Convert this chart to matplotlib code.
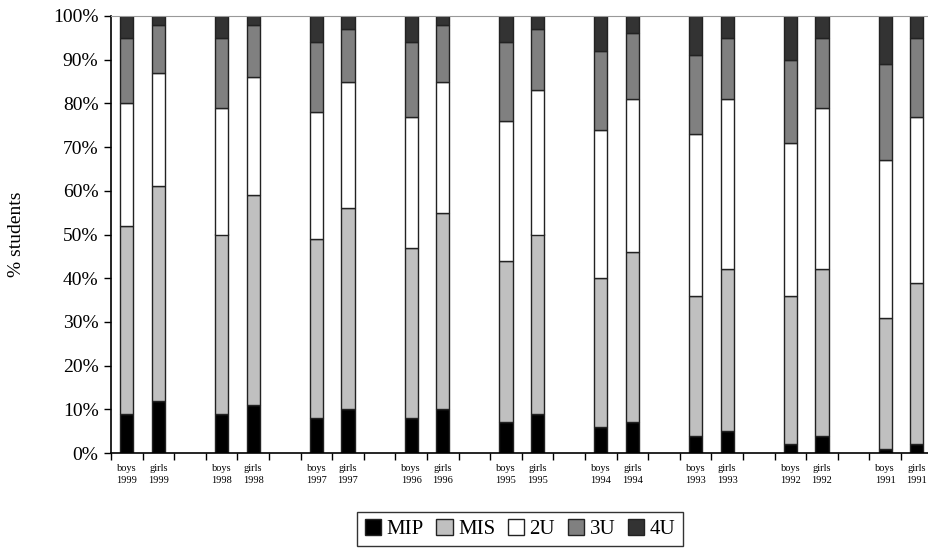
import matplotlib
matplotlib.use('Agg')
import matplotlib.pyplot as plt
from matplotlib.ticker import PercentFormatter, FixedLocator

# cumulative tops (MIP, +MIS, +2U, +3U), 4U fills to 100
groups = ['boys\n1999', 'girls\n1999', 'boys\n1998', 'girls\n1998',
          'boys\n1997', 'girls\n1997', 'boys\n1996', 'girls\n1996',
          'boys\n1995', 'girls\n1995', 'boys\n1994', 'girls\n1994',
          'boys\n1993', 'girls\n1993', 'boys\n1992', 'girls\n1992',
          'boys\n1991', 'girls\n1991']
mip = [9, 12, 9, 11, 8, 10, 8, 10, 7, 9, 6, 7, 4, 5, 2, 4, 1, 2]
mis = [43, 49, 41, 48, 41, 46, 39, 45, 37, 41, 34, 39, 32, 37, 34, 38, 30, 37]
u2 = [28, 26, 29, 27, 29, 29, 30, 30, 32, 33, 34, 35, 37, 39, 35, 37, 36, 38]
u3 = [15, 11, 16, 12, 16, 12, 17, 13, 18, 14, 18, 15, 18, 14, 19, 16, 22, 18]
u4 = [5, 2, 5, 2, 6, 3, 6, 2, 6, 3, 8, 4, 9, 5, 10, 5, 11, 5]

series = [('MIP', mip, '#000000'), ('MIS', mis, '#c0c0c0'), ('2U', u2, '#ffffff'),
          ('3U', u3, '#808080'), ('4U', u4, '#333333')]

plt.rcParams['font.family'] = ['Liberation Serif', 'DejaVu Serif']

fig = plt.figure(figsize=(9.29, 5.51), dpi=100)
ax = fig.add_axes([111 / 929, 1 - 453 / 551, 821.6 / 929, 437 / 551])

# slots: boys, girls, gap, boys, girls, gap, ...
xpos = []
for i in range(len(groups)):
    xpos.append((i // 2) * 3 + (i % 2))

bottom = [0] * len(groups)
for name, vals, col in series:
    ax.bar(xpos, vals, width=0.42, bottom=bottom, color=col,
           edgecolor='#222222', linewidth=1.0, label=name)
    bottom = [b + v for b, v in zip(bottom, vals)]

nslots = xpos[-1] + 1
ax.set_xlim(-0.5, nslots - 0.5)
ax.set_ylim(0, 100)

ax.xaxis.set_major_locator(FixedLocator([k - 0.5 for k in range(nslots + 1)]))
ax.set_xticklabels([])
ax.set_xticks(xpos, minor=True)
ax.set_xticklabels(groups, minor=True, fontsize=7.5, linespacing=1.35)
ax.tick_params(axis='x', which='major', direction='out', length=5, width=1.0)
ax.tick_params(axis='x', which='minor', length=0, pad=8)

ax.set_yticks(range(0, 101, 10))
ax.yaxis.set_major_formatter(PercentFormatter(decimals=0))
ax.tick_params(axis='y', direction='out', length=5, width=1.0, labelsize=14, pad=4)
ax.set_ylabel('% students', fontsize=14, labelpad=20)

ax.spines['right'].set_visible(False)
ax.spines['top'].set_color('#999999')
ax.spines['left'].set_linewidth(1.2)
ax.spines['bottom'].set_linewidth(1.2)

leg = fig.legend(loc='center', bbox_to_anchor=(520 / 929, 1 - 529 / 551), ncol=5,
                 fontsize=15, frameon=True, fancybox=False, handlelength=0.8,
                 handleheight=0.8, handletextpad=0.25, columnspacing=0.6,
                 borderpad=0.35)
leg.get_frame().set_edgecolor('black')
leg.get_frame().set_linewidth(1.0)

fig.savefig('out.png', dpi=100)
